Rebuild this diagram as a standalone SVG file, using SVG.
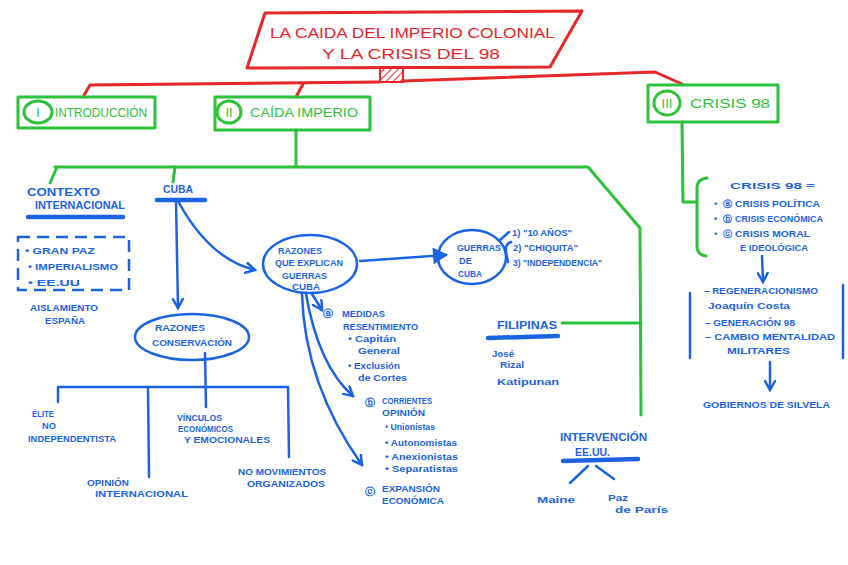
<svg xmlns="http://www.w3.org/2000/svg" width="848" height="565" viewBox="0 0 848 565">
<defs>
<style>
.r{fill:none;stroke:#e5262b;stroke-width:3;stroke-linejoin:round;stroke-linecap:round}
.g{fill:none;stroke:#2cc23a;stroke-width:3;stroke-linejoin:round;stroke-linecap:round}
.b{fill:none;stroke:#1c63e3;stroke-width:2.5;stroke-linejoin:round;stroke-linecap:round}
.ul{fill:none;stroke:#1c63e3;stroke-width:4.5;stroke-linecap:round}
.tr{font-family:"Liberation Sans",Arial,sans-serif;font-size:14px;fill:#e5262b}
.tg{font-family:"Liberation Sans",Arial,sans-serif;font-size:13px;fill:#2cc23a}
.tb{font-family:"Liberation Sans",Arial,sans-serif;font-size:10px;fill:#1c63e3;font-weight:bold}
.ts{font-family:"Liberation Sans",Arial,sans-serif;font-size:9px;fill:#1c63e3;font-weight:bold}
</style>
<pattern id="hatch" width="5" height="5" patternUnits="userSpaceOnUse" patternTransform="rotate(45)">
<line x1="0" y1="0" x2="0" y2="5" stroke="#e5262b" stroke-width="2"/>
</pattern>
<marker id="ah" viewBox="0 0 12 12" refX="10" refY="6" markerWidth="12" markerHeight="12" markerUnits="userSpaceOnUse" orient="auto">
<path d="M1,1 L10,6 L1,11" fill="none" stroke="#1c63e3" stroke-width="2.5" stroke-linecap="round"/>
</marker>
<marker id="ahb" viewBox="0 0 12 12" refX="10" refY="6" markerWidth="16" markerHeight="16" markerUnits="userSpaceOnUse" orient="auto">
<path d="M1,1 L10,6 L1,11 Z" fill="#1c63e3" stroke="#1c63e3" stroke-width="1.5"/>
</marker>
</defs>
<rect width="848" height="565" fill="#ffffff"/>

<g id="connectors">
<path class="r" d="M83,97 L90,85 L380,82"/>
<path class="r" d="M296,97 L303,84"/>
<path class="r" d="M403,81 L655,72 L682,84"/>
<path class="g" d="M55,167 L588,167 L640,228 L641,415"/>
<path class="g" d="M57,167 L50,183"/>
<path class="g" d="M175,167 L173,182"/>
<path class="g" d="M296,130 L296,167"/>
<path class="g" d="M562,323 L641,323"/>
<path class="g" d="M682,122 L683,202 L697,202"/>
<path class="g" d="M707,178 Q697,179 697,188 L697,246 Q697,255 706,256"/>
<path class="b" d="M176,201 L178,308" marker-end="url(#ah)"/>
<path class="b" d="M178,201 C198,238 222,262 255,270" marker-end="url(#ah)"/>
<path class="b" d="M360,261 L446,255" stroke-width="3.5" marker-end="url(#ahb)"/>
<path class="b" d="M312,294 L322,310" marker-end="url(#ah)"/>
<path class="b" d="M306,294 C314,340 330,376 353,396" marker-end="url(#ah)"/>
<path class="b" d="M302,294 C304,362 330,420 362,465" marker-end="url(#ah)"/>
<path class="b" d="M205,353 L206,407"/>
<path class="b" d="M58,402 L58,387 L288,387 L289,457"/>
<path class="b" d="M148,387 L149,477"/>
<path class="b" d="M500,240 L509,232"/>
<path class="b" d="M511,242 Q505,244 506,252 L508,262"/>
<path class="b" d="M588,466 L570,483"/>
<path class="b" d="M596,466 L614,479"/>
<path class="b" d="M762,256 L763,282" marker-end="url(#ah)"/>
<path class="b" d="M770,362 L770,390" marker-end="url(#ah)"/>
</g>

<g id="title">
<polygon class="r" points="265,13 582,11 550,67 247,68"/>
<rect x="380" y="67" width="23" height="15" fill="url(#hatch)" stroke="#e5262b" stroke-width="2"/>
<text class="tr" x="270" y="38" textLength="285" lengthAdjust="spacingAndGlyphs">LA CAIDA DEL IMPERIO COLONIAL</text>
<text class="tr" x="322" y="59" textLength="178" lengthAdjust="spacingAndGlyphs">Y LA CRISIS DEL 98</text>
</g>

<g id="intro">
<rect class="g" x="18" y="97" width="137" height="31"/>
<ellipse class="g" cx="38" cy="112" rx="14" ry="11"/>
<text class="tg" x="38" y="117" text-anchor="middle">I</text>
<text class="tg" x="55" y="117" textLength="92" lengthAdjust="spacingAndGlyphs">INTRODUCCIÓN</text>
</g>

<g id="caida">
<rect class="g" x="215" y="97" width="155" height="33"/>
<ellipse class="g" cx="229" cy="112" rx="12" ry="11"/>
<text class="tg" x="229" y="117" text-anchor="middle">II</text>
<text class="tg" x="250" y="117" textLength="108" lengthAdjust="spacingAndGlyphs">CAÍDA IMPERIO</text>
</g>

<g id="crisis">
<rect class="g" x="648" y="85" width="130" height="37"/>
<ellipse class="g" cx="667" cy="103" rx="13" ry="12"/>
<text class="tg" x="667" y="108" text-anchor="middle" font-size="11">III</text>
<text class="tg" x="690" y="108" textLength="80" lengthAdjust="spacingAndGlyphs">CRISIS 98</text>
</g>

<g id="contexto">
<text class="tb" x="27" y="196" textLength="73" lengthAdjust="spacingAndGlyphs">CONTEXTO</text>
<text class="tb" x="35" y="209" textLength="90" lengthAdjust="spacingAndGlyphs">INTERNACIONAL</text>
<path class="ul" d="M28,217 L123,217"/>
<rect x="18" y="237" width="111" height="53" fill="none" stroke="#1c63e3" stroke-width="2.5" stroke-dasharray="12 7"/>
<text class="ts" x="25" y="254" textLength="70" lengthAdjust="spacingAndGlyphs">• GRAN PAZ</text>
<text class="ts" x="28" y="270" textLength="90" lengthAdjust="spacingAndGlyphs">• IMPERIALISMO</text>
<text class="ts" x="28" y="286" textLength="52" lengthAdjust="spacingAndGlyphs">• EE.UU</text>
<text class="ts" x="30" y="311" textLength="68" lengthAdjust="spacingAndGlyphs">AISLAMIENTO</text>
<text class="ts" x="45" y="324" textLength="40" lengthAdjust="spacingAndGlyphs">ESPAÑA</text>
</g>

<g id="cuba">
<text class="tb" x="163" y="193" textLength="30" lengthAdjust="spacingAndGlyphs">CUBA</text>
<path class="ul" d="M157,200 L205,200"/>
</g>

<g id="conservacion">
<ellipse class="b" cx="192" cy="337" rx="57" ry="23"/>
<text class="ts" x="155" y="331" textLength="50" lengthAdjust="spacingAndGlyphs">RAZONES</text>
<text class="ts" x="152" y="346" textLength="80" lengthAdjust="spacingAndGlyphs">CONSERVACIÓN</text>
</g>

<g id="elite">
<text class="ts" x="32" y="417" textLength="22" lengthAdjust="spacingAndGlyphs">ÉLITE</text>
<text class="ts" x="42" y="429" textLength="14" lengthAdjust="spacingAndGlyphs">NO</text>
<text class="ts" x="28" y="442" textLength="88" lengthAdjust="spacingAndGlyphs">INDEPENDENTISTA</text>
</g>
<g id="opinion">
<text class="ts" x="87" y="486" textLength="42" lengthAdjust="spacingAndGlyphs">OPINIÓN</text>
<text class="ts" x="95" y="497" textLength="93" lengthAdjust="spacingAndGlyphs">INTERNACIONAL</text>
</g>
<g id="vinculos">
<text class="ts" x="177" y="421" textLength="45" lengthAdjust="spacingAndGlyphs">VÍNCULOS</text>
<text class="ts" x="178" y="432" textLength="55" lengthAdjust="spacingAndGlyphs">ECONÓMICOS</text>
<text class="ts" x="184" y="443" textLength="86" lengthAdjust="spacingAndGlyphs">Y EMOCIONALES</text>
</g>
<g id="movimientos">
<text class="ts" x="238" y="475" textLength="88" lengthAdjust="spacingAndGlyphs">NO MOVIMIENTOS</text>
<text class="ts" x="247" y="487" textLength="78" lengthAdjust="spacingAndGlyphs">ORGANIZADOS</text>
</g>

<g id="razones">
<ellipse class="b" cx="310" cy="264" rx="47" ry="29"/>
<text class="ts" x="278" y="254" textLength="44" lengthAdjust="spacingAndGlyphs">RAZONES</text>
<text class="ts" x="275" y="266" textLength="68" lengthAdjust="spacingAndGlyphs">QUE EXPLICAN</text>
<text class="ts" x="282" y="279" textLength="45" lengthAdjust="spacingAndGlyphs">GUERRAS</text>
<text class="ts" x="292" y="290" textLength="28" lengthAdjust="spacingAndGlyphs">CUBA</text>
</g>

<g id="guerras">
<ellipse class="b" cx="472" cy="257" rx="34" ry="27"/>
<text class="ts" x="457" y="251" textLength="44" lengthAdjust="spacingAndGlyphs">GUERRAS</text>
<text class="ts" x="459" y="264" textLength="13" lengthAdjust="spacingAndGlyphs">DE</text>
<text class="ts" x="458" y="277" textLength="24" lengthAdjust="spacingAndGlyphs">CUBA</text>
<text class="ts" x="512" y="236" textLength="60" lengthAdjust="spacingAndGlyphs">1) "10 AÑOS"</text>
<text class="ts" x="513" y="251" textLength="65" lengthAdjust="spacingAndGlyphs">2) "CHIQUITA"</text>
<text class="ts" x="513" y="266" textLength="89" lengthAdjust="spacingAndGlyphs">3) "INDEPENDENCIA"</text>
</g>

<g id="medidas">
<text class="tb" x="323" y="317" font-size="11">ⓐ</text>
<text class="ts" x="342" y="317" textLength="43" lengthAdjust="spacingAndGlyphs">MEDIDAS</text>
<text class="ts" x="343" y="330" textLength="75" lengthAdjust="spacingAndGlyphs">RESENTIMIENTO</text>
<text class="ts" x="348" y="342" textLength="48" lengthAdjust="spacingAndGlyphs">• Capitán</text>
<text class="ts" x="358" y="354" textLength="42" lengthAdjust="spacingAndGlyphs">General</text>
<text class="ts" x="348" y="369" textLength="52" lengthAdjust="spacingAndGlyphs">• Exclusión</text>
<text class="ts" x="358" y="381" textLength="49" lengthAdjust="spacingAndGlyphs">de Cortes</text>
</g>

<g id="corrientes">
<text class="tb" x="365" y="406" font-size="11">ⓑ</text>
<text class="ts" x="382" y="404" textLength="50" lengthAdjust="spacingAndGlyphs">CORRIENTES</text>
<text class="ts" x="382" y="416" textLength="43" lengthAdjust="spacingAndGlyphs">OPINIÓN</text>
<text class="ts" x="385" y="430" textLength="50" lengthAdjust="spacingAndGlyphs">• Unionistas</text>
<text class="ts" x="385" y="446" textLength="72" lengthAdjust="spacingAndGlyphs">• Autonomistas</text>
<text class="ts" x="385" y="460" textLength="73" lengthAdjust="spacingAndGlyphs">• Anexionistas</text>
<text class="ts" x="385" y="472" textLength="73" lengthAdjust="spacingAndGlyphs">• Separatistas</text>
</g>

<g id="expansion">
<text class="tb" x="365" y="495" font-size="11">ⓒ</text>
<text class="ts" x="382" y="492" textLength="58" lengthAdjust="spacingAndGlyphs">EXPANSIÓN</text>
<text class="ts" x="382" y="504" textLength="62" lengthAdjust="spacingAndGlyphs">ECONÓMICA</text>
</g>

<g id="filipinas">
<text class="tb" x="497" y="329" textLength="60" lengthAdjust="spacingAndGlyphs">FILIPINAS</text>
<path class="ul" d="M488,338 L558,336"/>
<text class="ts" x="492" y="357" textLength="22" lengthAdjust="spacingAndGlyphs">José</text>
<text class="ts" x="500" y="368" textLength="24" lengthAdjust="spacingAndGlyphs">Rizal</text>
<text class="ts" x="497" y="385" textLength="62" lengthAdjust="spacingAndGlyphs">Katipunan</text>
</g>

<g id="intervencion">
<text class="tb" x="560" y="441" textLength="87" lengthAdjust="spacingAndGlyphs">INTERVENCIÓN</text>
<text class="tb" x="575" y="456" textLength="35" lengthAdjust="spacingAndGlyphs">EE.UU.</text>
<path class="ul" d="M563,461 L638,459"/>
<text class="ts" x="537" y="503" textLength="38" lengthAdjust="spacingAndGlyphs">Maine</text>
<text class="ts" x="608" y="501" textLength="20" lengthAdjust="spacingAndGlyphs">Paz</text>
<text class="ts" x="615" y="513" textLength="53" lengthAdjust="spacingAndGlyphs">de París</text>
</g>

<g id="crisis-detalle">
<text class="ts" x="730" y="189" textLength="85" lengthAdjust="spacingAndGlyphs">CRISIS 98 =</text>
<text class="ts" x="714" y="207">•</text>
<text class="ts" x="723" y="207">ⓐ</text>
<text class="ts" x="735" y="207" textLength="85" lengthAdjust="spacingAndGlyphs">CRISIS POLÍTICA</text>
<text class="ts" x="714" y="222">•</text>
<text class="ts" x="723" y="222">ⓑ</text>
<text class="ts" x="735" y="222" textLength="88" lengthAdjust="spacingAndGlyphs">CRISIS ECONÓMICA</text>
<text class="ts" x="714" y="237">•</text>
<text class="ts" x="723" y="237">ⓒ</text>
<text class="ts" x="735" y="237" textLength="75" lengthAdjust="spacingAndGlyphs">CRISIS MORAL</text>
<text class="ts" x="740" y="251" textLength="68" lengthAdjust="spacingAndGlyphs">E IDEOLÓGICA</text>
</g>

<g id="regeneracionismo">
<path class="b" d="M690,293 L690,358"/>
<path class="b" d="M843,285 L843,358"/>
<text class="ts" x="704" y="294" textLength="114" lengthAdjust="spacingAndGlyphs">– REGENERACIONISMO</text>
<text class="ts" x="708" y="309" textLength="82" lengthAdjust="spacingAndGlyphs">Joaquín Costa</text>
<text class="ts" x="705" y="326" textLength="90" lengthAdjust="spacingAndGlyphs">– GENERACIÓN 98</text>
<text class="ts" x="705" y="340" textLength="130" lengthAdjust="spacingAndGlyphs">– CAMBIO MENTALIDAD</text>
<text class="ts" x="727" y="354" textLength="63" lengthAdjust="spacingAndGlyphs">MILITARES</text>
</g>

<g id="silvela">
<text class="ts" x="703" y="408" textLength="127" lengthAdjust="spacingAndGlyphs">GOBIERNOS DE SILVELA</text>
</g>
</svg>
